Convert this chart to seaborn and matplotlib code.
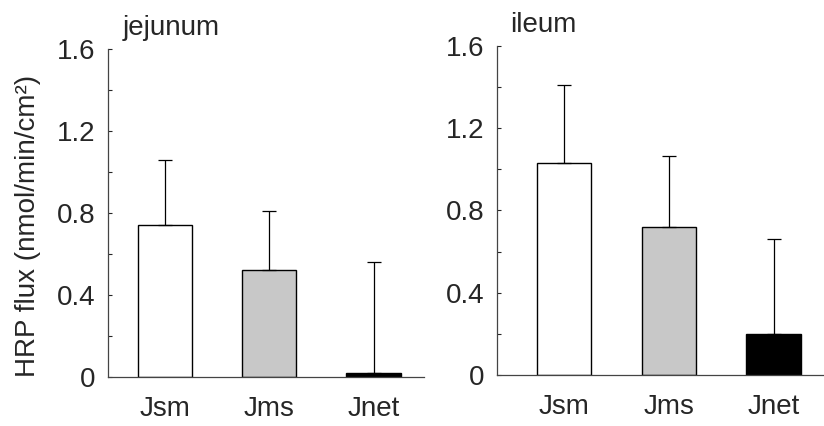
import numpy as np
import pandas as pd
import seaborn as sns
import matplotlib.pyplot as plt

# datos (media y desviacion hacia arriba)
flux_labels = ["Jsm", "Jms", "Jnet"]
jejunum_mean = [0.74, 0.52, 0.02]
jejunum_sd = [0.32, 0.29, 0.54]
ileum_mean = [1.03, 0.72, 0.20]
ileum_sd = [0.38, 0.345, 0.46]
bar_colors = ["white", "#c8c8c8", "black"]
y_ticks = [0, 0.4, 0.8, 1.2, 1.6]
y_tick_labels = ["0", "0.4", "0.8", "1.2", "1.6"]

sns.set_style("ticks")
plt.rcParams['font.family'] = ['Liberation Sans', 'DejaVu Sans']

fig = plt.figure(figsize=(8.24, 4.26), dpi=100)
ax1 = fig.add_axes([0.131, 0.115, 0.383, 0.77])
ax2 = fig.add_axes([0.603, 0.120, 0.397, 0.772])


def draw_panel(ax, means, sds, title, xlim, title_x):
    df = pd.DataFrame({"flux": flux_labels, "value": means})
    sns.barplot(data=df, x="flux", y="value", hue="flux", palette=bar_colors,
                errorbar=None, width=0.52, edgecolor="black", linewidth=1.0,
                legend=False, ax=ax)
    x = np.arange(len(means))
    ax.errorbar(x, means, yerr=[np.zeros(len(sds)), sds], fmt="none",
                ecolor="black", elinewidth=0.9, capsize=5, capthick=0.9)
    ax.set_ylim(0, 1.6)
    ax.set_xlim(*xlim)
    ax.set_yticks(y_ticks)
    ax.set_yticklabels(y_tick_labels, fontsize=20)
    ax.set_yticks(np.arange(0.2, 1.6, 0.4), minor=True)
    ax.tick_params(axis="y", which="both", direction="in", length=3, width=0.8, pad=9)
    ax.tick_params(axis="x", length=0, labelsize=20, pad=14)
    ax.set_xlabel("")
    ax.set_ylabel("")
    for s in ["top", "right"]:
        ax.spines[s].set_visible(False)
    ax.spines["left"].set_color("#444444")
    ax.spines["bottom"].set_color("#444444")
    ax.spines["left"].set_linewidth(0.9)
    ax.spines["bottom"].set_linewidth(0.9)
    ax.text(title_x, 1.025, title, transform=ax.transAxes, fontsize=20,
            ha="left", va="bottom")


draw_panel(ax1, jejunum_mean, jejunum_sd, "jejunum", (-0.55, 2.48), 0.048)
draw_panel(ax2, ileum_mean, ileum_sd, "ileum", (-0.64, 2.48), 0.04)

fig.text(0.034, 0.47, "HRP flux (nmol/min/cm²)", rotation=90, fontsize=20,
         ha="center", va="center")

fig.savefig("out.png", dpi=100)
